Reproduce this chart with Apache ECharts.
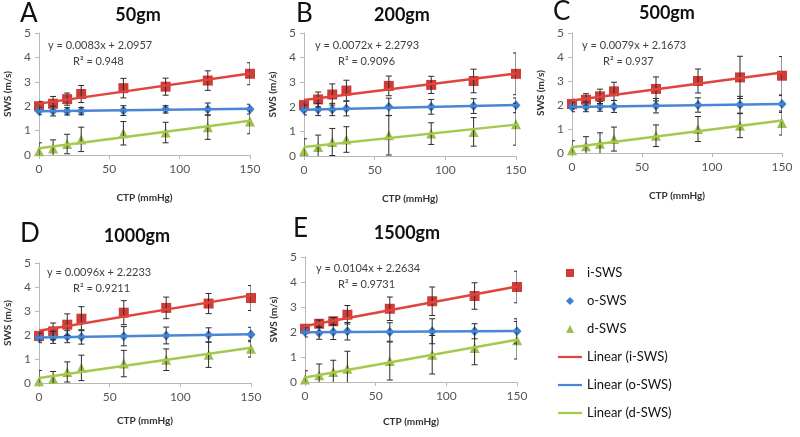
<!DOCTYPE html>
<html><head><meta charset="utf-8">
<script src="https://cdn.jsdelivr.net/npm/echarts@6/dist/echarts.min.js"></script>
<style>html,body{margin:0;padding:0;background:#fff}#c{width:800px;height:437px}</style>
</head><body><div id="c"></div>
<script>
// ---------- data ----------
const ctp = [0, 10, 20, 30, 60, 90, 120, 150];
const panelLetters = ['A', 'B', 'C', 'D', 'E'];
const panelTitles = ['50gm', '200gm', '500gm', '1000gm', '1500gm'];
const eqLines = ['y = 0.0083x + 2.0957', 'y = 0.0072x + 2.2793', 'y = 0.0079x + 2.1673', 'y = 0.0096x + 2.2233', 'y = 0.0104x + 2.2634'];
const r2Lines = ['R² = 0.948', 'R² = 0.9096', 'R² = 0.937', 'R² = 0.9211', 'R² = 0.9731'];
const seriesNames = ['i-SWS', 'o-SWS', 'd-SWS'];
const fitNames = ['Linear (i-SWS)', 'Linear (o-SWS)', 'Linear (d-SWS)'];

// Panel A (50gm)
const iSWS_A = [2.00, 2.10, 2.29, 2.50, 2.74, 2.80, 3.05, 3.33];
const iErr_A = [0.20, 0.30, 0.25, 0.35, 0.40, 0.35, 0.40, 0.45];
const oSWS_A = [1.80, 1.80, 1.79, 1.80, 1.82, 1.87, 1.88, 1.88];
const oErr_A = [0.15, 0.20, 0.15, 0.15, 0.20, 0.15, 0.25, 0.20];
const dSWS_A = [0.15, 0.27, 0.45, 0.64, 0.89, 0.92, 1.14, 1.37];
const dErr_A = [0.35, 0.35, 0.40, 0.50, 0.48, 0.42, 0.50, 0.50];
// Panel B (200gm)
const iSWS_B = [2.07, 2.30, 2.50, 2.66, 2.85, 2.89, 3.05, 3.34];
const iErr_B = [0.20, 0.30, 0.43, 0.42, 0.40, 0.35, 0.48, 0.85];
const oSWS_B = [1.87, 1.89, 1.89, 1.93, 2.00, 2.00, 2.03, 2.06];
const oErr_B = [0.20, 0.25, 0.25, 0.30, 0.35, 0.30, 0.30, 0.30];
const dSWS_B = [0.20, 0.37, 0.57, 0.67, 0.84, 0.91, 0.98, 1.29];
const dErr_B = [0.50, 0.48, 0.55, 0.52, 0.80, 0.44, 0.58, 0.85];
// Panel C (500gm)
const iSWS_C = [2.04, 2.22, 2.36, 2.57, 2.67, 3.00, 3.15, 3.22];
const iErr_C = [0.20, 0.25, 0.30, 0.38, 0.50, 0.50, 0.88, 0.80];
const oSWS_C = [1.92, 1.92, 1.94, 1.94, 1.97, 2.00, 2.01, 2.04];
const oErr_C = [0.20, 0.20, 0.20, 0.25, 0.30, 0.30, 0.35, 0.35];
const dSWS_C = [0.11, 0.28, 0.39, 0.58, 0.72, 1.00, 1.14, 1.25];
const dErr_C = [0.40, 0.40, 0.45, 0.50, 0.45, 0.52, 0.50, 0.50];
// Panel D (1000gm)
const iSWS_D = [1.96, 2.15, 2.43, 2.68, 2.93, 3.13, 3.31, 3.54];
const iErr_D = [0.20, 0.35, 0.45, 0.50, 0.50, 0.45, 0.42, 0.52];
const oSWS_D = [1.88, 1.90, 1.93, 1.92, 1.95, 1.98, 2.00, 2.02];
const oErr_D = [0.20, 0.25, 0.25, 0.30, 0.40, 0.35, 0.30, 0.30];
const dSWS_D = [0.07, 0.18, 0.46, 0.63, 0.81, 0.97, 1.18, 1.43];
const dErr_D = [0.45, 0.30, 0.42, 0.53, 0.55, 0.45, 0.53, 0.35];
// Panel E (1500gm)
const iSWS_E = [2.13, 2.33, 2.43, 2.69, 2.93, 3.23, 3.44, 3.80];
const iErr_E = [0.15, 0.15, 0.15, 0.37, 0.47, 0.57, 0.53, 0.63];
const oSWS_E = [2.00, 1.96, 2.00, 2.03, 2.00, 2.03, 2.03, 2.03];
const oErr_E = [0.20, 0.25, 0.30, 0.35, 0.37, 0.50, 0.30, 0.50];
const dSWS_E = [0.10, 0.27, 0.40, 0.53, 0.84, 1.09, 1.36, 1.67];
const dErr_E = [0.35, 0.45, 0.47, 0.70, 0.76, 0.77, 0.67, 0.75];

const panelData = [
  [[iSWS_A, iErr_A], [oSWS_A, oErr_A], [dSWS_A, dErr_A]],
  [[iSWS_B, iErr_B], [oSWS_B, oErr_B], [dSWS_B, dErr_B]],
  [[iSWS_C, iErr_C], [oSWS_C, oErr_C], [dSWS_C, dErr_C]],
  [[iSWS_D, iErr_D], [oSWS_D, oErr_D], [dSWS_D, dErr_D]],
  [[iSWS_E, iErr_E], [oSWS_E, oErr_E], [dSWS_E, dErr_E]]
];

// ---------- layout & style ----------
const FONT = 'Lato, "Liberation Sans", sans-serif';
const grids = [
  {left: 39, top: 33, width: 211, height: 122},
  {left: 304, top: 33, width: 212, height: 123},
  {left: 572, top: 33, width: 210, height: 120},
  {left: 39, top: 263, width: 212, height: 120},
  {left: 305, top: 257, width: 212, height: 125}
];
const xNameGap = [38, 38, 38, 33, 35];
const letterPos = [[20, 15], [296, 15], [553, 13], [20, 235], [293, 230]];
const titlePos = [[138, 15], [402, 15], [667, 13], [137, 236], [407, 233]];
const eqPos = [[48, 45, 73, 61], [315, 45, 338, 61], [582, 45, 603, 61], [47, 272, 73, 288], [316, 268, 338, 284]];
const markerColors = ['#d03c38', '#3f7fcf', '#9cc04f'];
const lineColors = ['#e0443e', '#4a86d6', '#a5c94e'];
const symbols = ['rect', 'diamond', 'triangle'];
const symbolSizes = [[10, 10], [9, 10], [10, 10]];
const legendMarkerIcons = ['path://M0,0h10v10h-10z', 'path://M5,0L10,5L5,10L0,5z', 'path://M5,0L10,10L0,10z'];
const legendLineIcon = 'path://M0,0h24v2.2h-24z';

function linFit(xs, ys) {
  const n = xs.length;
  const mx = xs.reduce((a, b) => a + b, 0) / n;
  const my = ys.reduce((a, b) => a + b, 0) / n;
  let sxy = 0, sxx = 0;
  for (let i = 0; i < n; i++) { sxy += (xs[i] - mx) * (ys[i] - my); sxx += (xs[i] - mx) ** 2; }
  const m = sxy / sxx;
  return [m, my - m * mx];
}

function errRender(params, api) {
  const x = api.value(0), lo = api.value(1), hi = api.value(2);
  const p1 = api.coord([x, hi]), p2 = api.coord([x, lo]);
  const w = 3;
  const st = {stroke: '#2b2b2b', lineWidth: 1};
  return {
    type: 'group', children: [
      {type: 'line', shape: {x1: p1[0], y1: p1[1], x2: p2[0], y2: p2[1]}, style: st},
      {type: 'line', shape: {x1: p1[0] - w, y1: p1[1], x2: p1[0] + w, y2: p1[1]}, style: st},
      {type: 'line', shape: {x1: p2[0] - w, y1: p2[1], x2: p2[0] + w, y2: p2[1]}, style: st}
    ]
  };
}

const xAxes = [], yAxes = [], series = [], graphics = [];
grids.forEach((g, k) => {
  xAxes.push({
    type: 'value', gridIndex: k, min: 0, max: 150, interval: 50,
    name: 'CTP (mmHg)', nameLocation: 'middle', nameGap: xNameGap[k],
    nameTextStyle: {fontFamily: FONT, fontSize: 10, fontWeight: 'bold', color: '#333'},
    axisLine: {lineStyle: {color: '#b8b8b8'}},
    axisTick: {show: true, length: 4, lineStyle: {color: '#b8b8b8'}},
    axisLabel: {fontFamily: FONT, fontSize: 12, color: '#555', margin: 8},
    splitLine: {show: false}
  });
  yAxes.push({
    type: 'value', gridIndex: k, min: 0, max: 5, interval: 1,
    name: 'SWS (m/s)', nameLocation: 'middle', nameGap: 26, nameRotate: 90,
    nameTextStyle: {fontFamily: FONT, fontSize: 10, fontWeight: 'bold', color: '#333'},
    axisLine: {show: true, lineStyle: {color: '#b8b8b8'}},
    axisTick: {show: true, length: 4, lineStyle: {color: '#b8b8b8'}},
    axisLabel: {fontFamily: FONT, fontSize: 12, color: '#555', margin: 8},
    splitLine: {show: false}
  });
  panelData[k].forEach((pair, s) => {
    const vals = pair[0], errs = pair[1];
    series.push({
      type: 'custom', xAxisIndex: k, yAxisIndex: k, renderItem: errRender, clip: true, z: 4,
      silent: true, legendHoverLink: false,
      data: ctp.map((x, i) => [x, vals[i] - errs[i], vals[i] + errs[i]])
    });
  });
  panelData[k].forEach((pair, s) => {
    series.push({
      type: 'scatter', name: seriesNames[s], xAxisIndex: k, yAxisIndex: k,
      symbol: symbols[s], symbolSize: symbolSizes[s], z: 3,
      itemStyle: {color: markerColors[s], opacity: 1},
      data: ctp.map((x, i) => [x, pair[0][i]])
    });
  });
  panelData[k].forEach((pair, s) => {
    const f = linFit(ctp, pair[0]);
    series.push({
      type: 'line', name: fitNames[s], xAxisIndex: k, yAxisIndex: k,
      symbol: 'none', showSymbol: false, z: 5,
      lineStyle: {color: lineColors[s], width: 2.5}, itemStyle: {color: lineColors[s]},
      data: [[0, f[1]], [150, f[1] + 150 * f[0]]]
    });
  });
  graphics.push({type: 'text', left: letterPos[k][0], top: letterPos[k][1] - 14,
    style: {text: panelLetters[k], font: '26px ' + FONT, fill: '#111'}});
  graphics.push({type: 'text', x: titlePos[k][0], y: titlePos[k][1],
    style: {text: panelTitles[k], font: 'bold 18px ' + FONT, fill: '#111', align: 'center', verticalAlign: 'middle'}});
  graphics.push({type: 'text', x: eqPos[k][0], y: eqPos[k][1],
    style: {text: eqLines[k], font: '11px ' + FONT, fill: '#404040', verticalAlign: 'middle'}});
  graphics.push({type: 'text', x: eqPos[k][2], y: eqPos[k][3],
    style: {text: r2Lines[k], font: '11px ' + FONT, fill: '#404040', verticalAlign: 'middle'}});
});

const legendData = seriesNames.map((n, s) => ({name: n, icon: legendMarkerIcons[s], itemStyle: {color: markerColors[s]}}))
  .concat(fitNames.map((n, s) => ({name: n, icon: legendLineIcon, itemStyle: {color: lineColors[s]}})));

const chart = echarts.init(document.getElementById('c'), null, {renderer: 'canvas'});
chart.setOption({
  backgroundColor: '#fff',
  animation: false,
  grid: grids,
  xAxis: xAxes,
  yAxis: yAxes,
  series: series,
  graphic: graphics,
  legend: {
    orient: 'vertical', left: 553, top: 261,
    itemWidth: 24, itemHeight: 8, itemGap: 14, symbolKeepAspect: true,
    data: legendData,
    textStyle: {fontFamily: FONT, fontSize: 13, color: '#111', lineHeight: 14}
  }
});
</script></body></html>
